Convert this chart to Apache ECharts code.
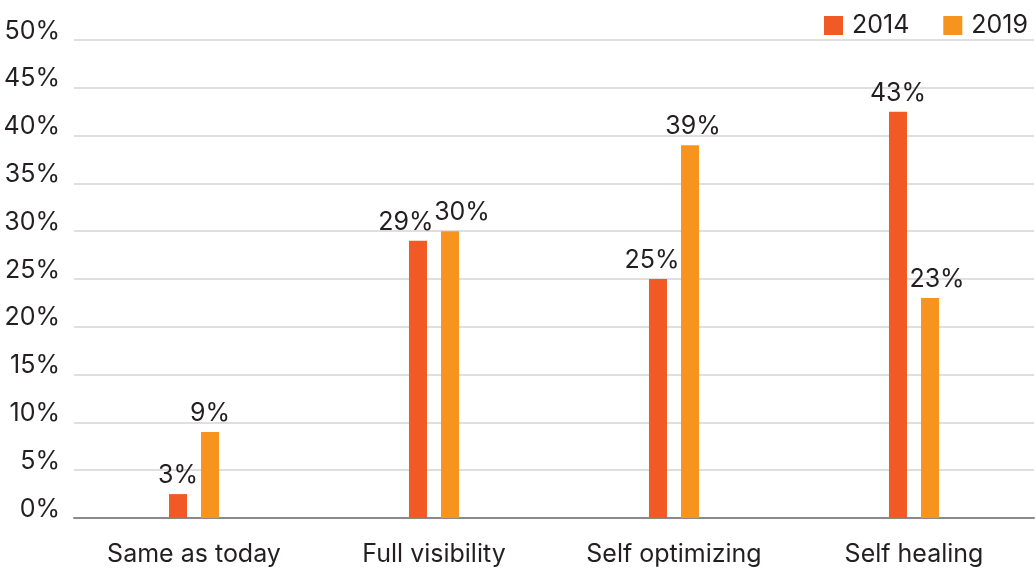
<!DOCTYPE html>
<html><head><meta charset="utf-8">
<script src="https://cdn.jsdelivr.net/npm/echarts@6/dist/echarts.min.js"></script>
<style>html,body{margin:0;padding:0;background:#fff}#c{width:1036px;height:572px}</style>
</head><body><div id="c"></div>
<script>
var categories = ['Same as today', 'Full visibility', 'Self optimizing', 'Self healing'];
var values2014 = [2.5, 29, 25, 42.5];
var values2019 = [9, 30, 39, 23];
var seriesNames = ['2014', '2019'];
var yTicks = [0, 5, 10, 15, 20, 25, 30, 35, 40, 45, 50];

var FONT = 'Inter';
var TXT = '#231f20';
var FS = 25;
var chart = echarts.init(document.getElementById('c'));
// horizontal nudges of value labels (style only), as in the original layout
var nudge2014 = [0, -12, -6, 0];
var nudge2019 = [0, 12, 3, 7];
function items(vals, nudges) {
  return vals.map(function (v, i) { return {value: v, label: {offset: [nudges[i], 0]}}; });
}
function lbl() {
  return {show: true, position: 'top', distance: 6, color: TXT, fontFamily: FONT, fontSize: FS,
    formatter: function (p) { return Math.round(p.value) + '%'; }};
}
chart.setOption({
  animation: false,
  legend: {
    data: seriesNames, right: 3, top: 8, itemWidth: 19, itemHeight: 19, itemGap: 34,
    icon: 'rect', textStyle: {color: TXT, fontFamily: FONT, fontSize: FS, padding: [0, 0, 0, 4]}
  },
  grid: {left: 74, right: 2, top: 40, bottom: 54, containLabel: false},
  xAxis: {
    type: 'category', data: categories,
    axisLine: {lineStyle: {color: '#8a8a8a', width: 2}},
    axisTick: {show: false},
    axisLabel: {color: TXT, fontFamily: FONT, fontSize: FS, margin: 24}
  },
  yAxis: {
    type: 'value', min: yTicks[0], max: yTicks[yTicks.length - 1], interval: 5,
    axisLine: {show: false}, axisTick: {show: false},
    splitLine: {lineStyle: {color: '#d4d4d4', width: 1.5}},
    axisLabel: {color: TXT, fontFamily: FONT, fontSize: FS, margin: 14, formatter: '{value}%',
      verticalAlign: 'bottom', lineHeight: 22, padding: [0, 0, -2, 0]}
  },
  series: [
    {name: seriesNames[0], type: 'bar', data: items(values2014, nudge2014), barWidth: 18, barGap: '78%',
     itemStyle: {color: '#f15a24'}, label: lbl()},
    {name: seriesNames[1], type: 'bar', data: items(values2019, nudge2019), barWidth: 18,
     itemStyle: {color: '#f7941d'}, label: lbl()}
  ]
});
</script></body></html>
